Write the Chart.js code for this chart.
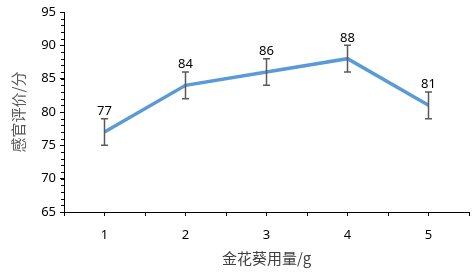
<!DOCTYPE html>
<html>
<head>
<meta charset="utf-8">
<script src="https://cdn.jsdelivr.net/npm/chart.js@4"></script>
<style>
  html, body { margin: 0; padding: 0; background: #fff; }
  #wrap { width: 472px; height: 274px; }
</style>
</head>
<body>
<div id="wrap"><canvas id="sensoryChart"></canvas></div>
<script>
const doses = ['1', '2', '3', '4', '5']
const scores = [77, 84, 86, 88, 81]
const errors = [2, 2, 2, 2, 2]
const yTicks = [65, 70, 75, 80, 85, 90, 95]

// error bars + value labels, plus the little minor ticks on both axes
const extras = {
    id: 'extras',
    afterDatasetsDraw(chart) {
        const ctx = chart.ctx
        const x = chart.scales.x
        const y = chart.scales.y
        ctx.save()
        ctx.strokeStyle = '#595959'
        ctx.lineWidth = 1.5
        scores.forEach((v, i) => {
            const px = x.getPixelForValue(i)
            const top = y.getPixelForValue(v + errors[i])
            const bot = y.getPixelForValue(v - errors[i])
            ctx.beginPath()
            ctx.moveTo(px, top); ctx.lineTo(px, bot)
            ctx.moveTo(px - 3.5, top); ctx.lineTo(px + 3.5, top)
            ctx.moveTo(px - 3.5, bot); ctx.lineTo(px + 3.5, bot)
            ctx.stroke()
            ctx.fillStyle = '#000'
            ctx.font = '13px "Noto Sans", sans-serif'
            ctx.textAlign = 'center'
            ctx.textBaseline = 'bottom'
            ctx.fillText(String(v), px, top - 1)
        })
        ctx.restore()
    },
    afterDraw(chart) {
        const ctx = chart.ctx
        const x = chart.scales.x
        const y = chart.scales.y
        ctx.save()
        ctx.strokeStyle = '#000'
        ctx.lineWidth = 1
        ctx.beginPath()
        // minor y ticks every 1 unit
        for (let v = y.min; v <= y.max; v++) {
            const py = Math.round(y.getPixelForValue(v)) + 0.5
            ctx.moveTo(x.left - 3, py); ctx.lineTo(x.left, py)
        }
        // x boundary ticks
        for (let i = 0; i <= doses.length; i++) {
            const px = Math.round(x.getPixelForValue(i - 0.5)) + 0.5
            ctx.moveTo(px, y.bottom); ctx.lineTo(px, y.bottom + 4)
        }
        ctx.stroke()
        ctx.restore()
    }
}

new Chart(document.getElementById('sensoryChart'), {
    type: 'line',
    data: {
        labels: doses,
        datasets: [{
            data: scores,
            borderColor: '#5B9BD5',
            borderWidth: 3.5,
            pointRadius: 0,
            tension: 0,
            fill: false
        }]
    },
    options: {
        responsive: true,
        maintainAspectRatio: false,
        animation: false,
        layout: { padding: { top: 12, right: 3, left: 0, bottom: 0 } },
        plugins: { legend: { display: false }, tooltip: { enabled: false } },
        scales: {
            x: {
                offset: true,
                afterFit: s => { s.height = 62 },
                border: { color: '#000', width: 1 },
                grid: { drawOnChartArea: false, color: '#000', tickLength: 4 },
                ticks: { color: '#000', padding: 11, font: { size: 13, family: '"Noto Sans", sans-serif' } },
                title: {
                    display: true,
                    text: '金花葵用量/g',
                    color: '#404040',
                    padding: { bottom: 7 },
                    font: { size: 15, family: '"Noto Sans CJK SC", sans-serif' }
                }
            },
            y: {
                min: 65,
                max: 95,
                afterFit: s => { s.width = 64 },
                afterBuildTicks: s => { s.ticks = yTicks.map(v => ({ value: v })) },
                border: { color: '#000', width: 1 },
                grid: { drawOnChartArea: false, color: '#000', tickLength: 4 },
                ticks: { color: '#000', padding: 4, font: { size: 13, family: '"Noto Sans", sans-serif' } },
                title: {
                    display: true,
                    text: '感官评价/分',
                    color: '#595959',
                    padding: { top: 9 },
                    font: { size: 15, family: '"Noto Sans CJK SC", sans-serif' }
                }
            }
        }
    },
    plugins: [extras]
})
</script>
</body>
</html>
